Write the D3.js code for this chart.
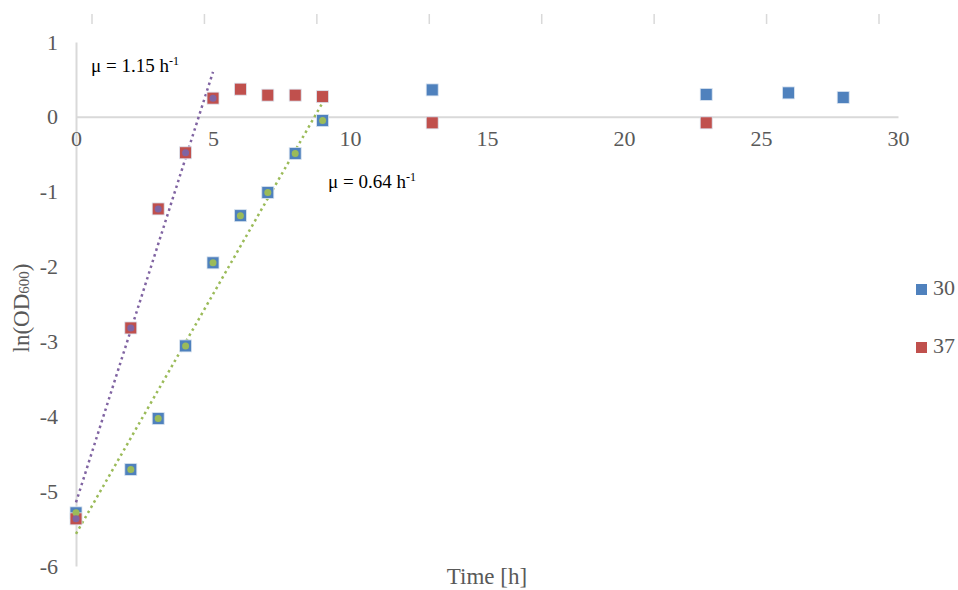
<!DOCTYPE html>
<html lang="en">
<head>
    <meta charset="UTF-8">
    <title>growthCurve</title>
    <script src="https://cdn.jsdelivr.net/npm/d3@7"></script>
    <style>
        body { margin: 0; background: #fff; }
        .x_Axis path, .y_Axis path { stroke: #d9d9d9; stroke-width: 2; }
        .x_Axis line, .y_Axis line { display: none; }
    </style>
</head>
<body>
<script>
    // data
    let time30 = [0, 2, 3, 4, 5, 6, 7, 8, 9, 13, 23, 26, 28];
    let lnOD30 = [-5.29, -4.71, -4.03, -3.06, -1.95, -1.32, -1.01, -0.49, -0.05, 0.36, 0.30, 0.32, 0.26];
    let time37 = [0, 2, 3, 4, 5, 6, 7, 8, 9, 13, 23];
    let lnOD37 = [-5.37, -2.82, -1.23, -0.48, 0.25, 0.37, 0.29, 0.29, 0.27, -0.08, -0.08];
    let fitCount30 = 9;   // points 0..9 h used for the 30 fit
    let fitCount37 = 5;   // points 0..5 h used for the 37 fit
    let xTicks = [0, 5, 10, 15, 20, 25, 30];
    let yTicks = [1, 0, -1, -2, -3, -4, -5, -6];
    let trendSlope = [1.15, 0.64];
    let trendIntercept = [-5.15, -5.57];
    let trendRange = [[0, 5], [0, 9]];
    let trendLabels = ["μ = 1.15 h", "μ = 0.64 h"];
    let seriesNames = ["30", "37"];

    let width = 958;
    let height = 590;
    let font = "'Liberation Serif', 'Times New Roman', serif";
    let colors = {blue: "#4f81bd", red: "#c0504d", green: "#9bbb59", purple: "#8064a2"};

    let svg = d3.select("body")
        .append("svg")
        .attr("width", width)
        .attr("height", height)
        .style("font-family", font);

    let xScale = d3.scaleLinear()
        .domain([0, 30])
        .range([76, 898]);

    let yScale = d3.scaleLinear()
        .domain([-6, 1])
        .range([566, 42]);

    // faint tick marks along the top edge
    let topScale = d3.scaleLinear().domain([0, 7]).range([92, 879]);
    svg.selectAll(".topTick")
        .data(d3.range(8))
        .enter()
        .append("line")
        .attr("x1", d => topScale(d))
        .attr("x2", d => topScale(d))
        .attr("y1", 14)
        .attr("y2", 24)
        .attr("stroke", "#d9d9d9")
        .attr("stroke-width", 1.5);

    let xAxis = d3.axisBottom(xScale)
        .tickValues(xTicks)
        .tickFormat(d => String(d))
        .tickSize(0)
        .tickPadding(14)
        .tickSizeOuter(0);

    let yAxis = d3.axisLeft(yScale)
        .tickValues(yTicks)
        .tickFormat(d => String(d))
        .tickSize(0)
        .tickPadding(18)
        .tickSizeOuter(0);

    svg.append("g")
        .attr("class", "y_Axis")
        .attr("transform", "translate(" + xScale(0) + ",0)")
        .call(yAxis);

    svg.append("g")
        .attr("class", "x_Axis")
        .attr("transform", "translate(0," + yScale(0) + ")")
        .call(xAxis);

    svg.selectAll(".x_Axis, .y_Axis")
        .attr("font-family", font)
        .attr("font-size", 22)
        .selectAll("text")
        .attr("fill", "#595959");

    // trend lines
    let trendColors = [colors.purple, colors.green];
    trendRange.forEach(function (r, i) {
        svg.append("line")
            .attr("x1", xScale(r[0]))
            .attr("y1", yScale(trendIntercept[i] + trendSlope[i] * r[0]))
            .attr("x2", xScale(r[1]))
            .attr("y2", yScale(trendIntercept[i] + trendSlope[i] * r[1]))
            .attr("stroke", trendColors[i])
            .attr("stroke-width", 2.5)
            .attr("stroke-dasharray", "2.5,3.5");
    });

    let sq = 12;
    function squares(xs, ys, color) {
        svg.append("g")
            .selectAll("rect")
            .data(xs)
            .enter()
            .append("rect")
            .attr("x", (d) => xScale(d) - sq / 2)
            .attr("y", (d, i) => yScale(ys[i]) - sq / 2)
            .attr("width", sq)
            .attr("height", sq)
            .attr("fill", color)
            .attr("stroke", "#dbe5f1")
            .attr("stroke-width", 0.8);
    }
    function dots(xs, ys, n, color) {
        svg.append("g")
            .selectAll("circle")
            .data(xs.filter(d => d <= n))
            .enter()
            .append("circle")
            .attr("cx", d => xScale(d))
            .attr("cy", (d, i) => yScale(ys[i]))
            .attr("r", 3.5)
            .attr("fill", color);
    }

    squares(time30, lnOD30, colors.blue);
    squares(time37, lnOD37, colors.red);
    dots(time30, lnOD30, fitCount30, colors.green);
    dots(time37, lnOD37, fitCount37, colors.purple);

    // growth rate labels
    let labelPos = [[0.55, 0.6], [9.2, -0.95]];
    trendLabels.forEach(function (t, i) {
        let txt = svg.append("text")
            .attr("x", xScale(labelPos[i][0]))
            .attr("y", yScale(labelPos[i][1]))
            .attr("font-size", "19px")
            .attr("fill", "#000")
            .text(t);
        txt.append("tspan")
            .attr("dy", -7)
            .attr("font-size", "12px")
            .text("-1");
    });

    // legend
    let legendColors = [colors.blue, colors.red];
    let legend = svg.selectAll(".legend")
        .data(seriesNames)
        .enter()
        .append("g")
        .attr("transform", (d, i) => "translate(916," + (284 + i * 58) + ")");
    legend.append("rect")
        .attr("width", 11)
        .attr("height", 11)
        .attr("fill", (d, i) => legendColors[i]);
    legend.append("text")
        .attr("x", 17)
        .attr("y", 11)
        .attr("font-size", "22px")
        .attr("fill", "#595959")
        .text(d => d);

    // axis titles
    svg.append("text")
        .attr("x", 487)
        .attr("y", 584)
        .attr("text-anchor", "middle")
        .attr("font-size", "23px")
        .attr("fill", "#595959")
        .text("Time [h]");

    let yTitle = svg.append("text")
        .attr("transform", "translate(29,308) rotate(-90)")
        .attr("text-anchor", "middle")
        .attr("font-size", "23px")
        .attr("fill", "#595959")
        .text("ln(OD");
    yTitle.append("tspan").attr("font-size", "15px").text("600");
    yTitle.append("tspan").text(")");
</script>
</body>
</html>
